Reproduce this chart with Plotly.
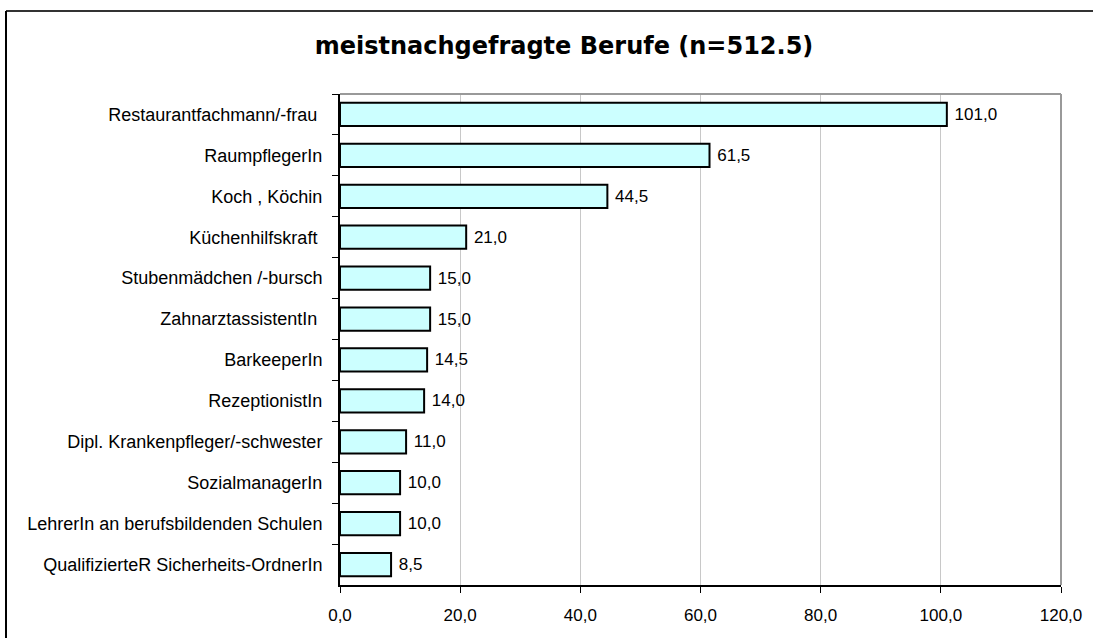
import plotly.graph_objects as go

categories = [
    "Restaurantfachmann/-frau ",
    "RaumpflegerIn",
    "Koch , Köchin",
    "Küchenhilfskraft ",
    "Stubenmädchen /-bursch",
    "ZahnarztassistentIn ",
    "BarkeeperIn",
    "RezeptionistIn",
    "Dipl. Krankenpfleger/-schwester",
    "SozialmanagerIn",
    "LehrerIn an berufsbildenden Schulen",
    "QualifizierteR Sicherheits-OrdnerIn",
]
values = [101.0, 61.5, 44.5, 21.0, 15.0, 15.0, 14.5, 14.0, 11.0, 10.0, 10.0, 8.5]
x_ticks = [0, 20, 40, 60, 80, 100, 120]

labels = [" " + f"{v:.1f}".replace(".", ",") for v in values]

fig = go.Figure(go.Bar(
    y=categories, x=values, orientation="h",
    marker=dict(color="#CCFFFF", line=dict(color="black", width=2)),
    text=labels, textposition="outside", cliponaxis=False,
    textfont=dict(family="Liberation Sans, Arial", size=17, color="black"),
))

L, R, T, B = 340, 32, 94, 53
W, H = 1093, 638
pw, ph = W - L - R, H - T - B

def px_to_paper_x(px):
    return (px - L) / pw

def px_to_paper_y(py):
    return (H - B - py) / ph

fig.update_layout(
    width=W, height=H,
    margin=dict(l=L, r=R, t=T, b=B, autoexpand=False),
    paper_bgcolor="white", plot_bgcolor="white",
    bargap=0.43,
    showlegend=False,
    separators=",.",
    font=dict(family="Liberation Sans, Arial", size=17, color="black"),
    title=dict(text="<b>meistnachgefragte Berufe (n=512.5)</b>", x=px_to_paper_x(564), xref="paper",
               xanchor="center", y=(H - 46) / H, yanchor="middle",
               font=dict(family="DejaVu Sans", size=24, color="black")),
    xaxis=dict(range=[0, 120], tickvals=x_ticks, tickformat=".1f",
               showgrid=True, gridcolor="#c8c8c8", gridwidth=1,
               showline=True, linecolor="black", linewidth=2,
               ticks="outside", ticklen=6, tickcolor="black", tickwidth=1,
               zeroline=False, mirror=False,
               ticklabelstandoff=8,
               tickfont=dict(size=17)),
    yaxis=dict(autorange="reversed", type="category",
               showline=True, linecolor="black", linewidth=2,
               ticks="outside", ticklen=6, tickcolor="black", tickwidth=1,
               tickson="boundaries", showgrid=False,
               ticklabelstandoff=12,
               tickfont=dict(size=18)),
    shapes=[
        dict(type="line", xref="paper", yref="paper", x0=0, x1=1, y0=1, y1=1,
             line=dict(color="#999999", width=2)),
        dict(type="line", xref="paper", yref="paper", x0=1, x1=1, y0=0, y1=1,
             line=dict(color="#999999", width=2)),
        dict(type="line", xref="paper", yref="paper",
             x0=px_to_paper_x(6), x1=px_to_paper_x(1093), y0=px_to_paper_y(11), y1=px_to_paper_y(11),
             line=dict(color="#333333", width=2)),
        dict(type="line", xref="paper", yref="paper",
             x0=px_to_paper_x(6), x1=px_to_paper_x(6), y0=px_to_paper_y(11), y1=px_to_paper_y(638),
             line=dict(color="black", width=2)),
    ],
)

fig.write_html("out.html", config={"displayModeBar": False},
               post_script=("document.body.style.margin='0';document.body.style.padding='0';"
                            "document.body.style.overflow='hidden';"
                            "document.documentElement.style.overflow='hidden';"))
